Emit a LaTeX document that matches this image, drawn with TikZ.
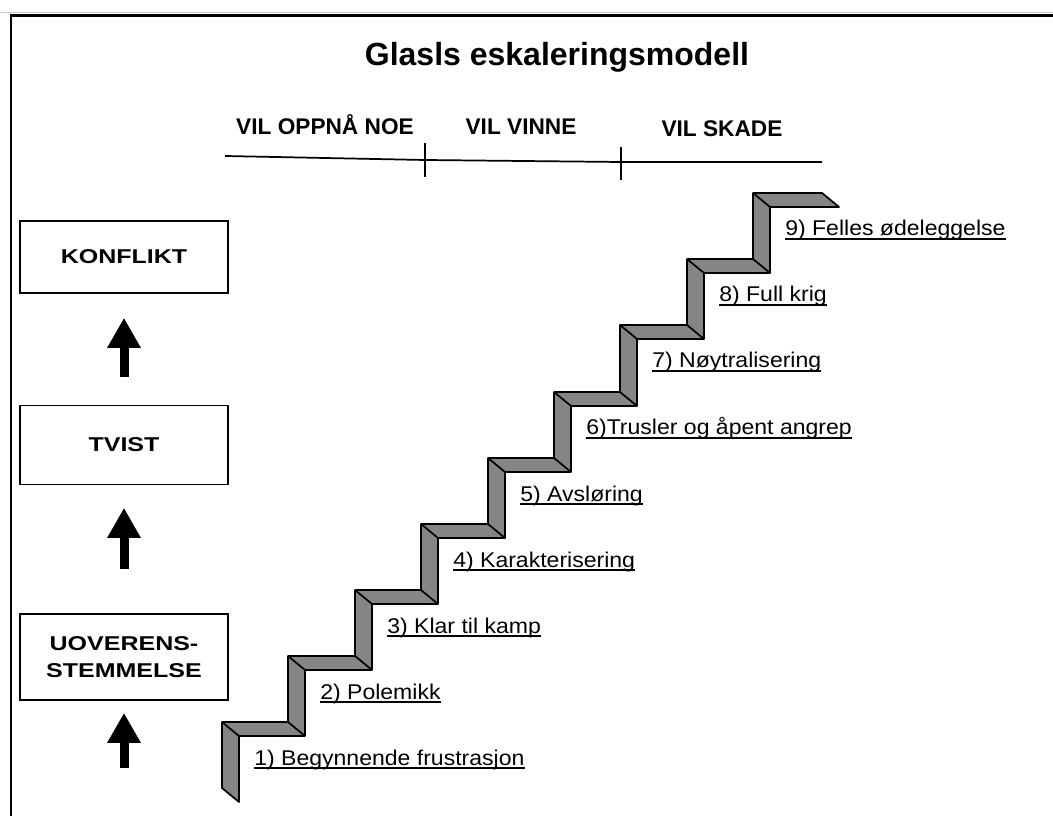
\documentclass[tikz,border=0pt]{standalone}
\usepackage{fontspec}
\setmainfont{Liberation Sans}
\newfontfamily\widefont[FakeStretch=1.08]{Liberation Sans}
\newfontfamily\boxfont[FakeStretch=1.25]{Liberation Sans}
\usetikzlibrary{arrows.meta}

% underlined step text
\newcommand{\stepline}[1]{\setbox0\hbox{#1}\rlap{\rule[-3pt]{\wd0}{1.2pt}}\box0}

\begin{document}
\begin{tikzpicture}[x=0.75pt, y=-0.75pt]
    % Define styles
    \tikzset{
        titletext/.style={font=\bfseries\fontsize{24}{28}\selectfont},
        phase/.style={font=\bfseries\fontsize{17}{20}\selectfont},
        timeline/.style={line width=1.3pt},
        stagebox/.style={draw, line width=1.2pt, minimum width=156pt, align=center,
            font=\boxfont\bfseries\fontsize{15}{20}\selectfont},
        bigarrow/.style={line width=6.75pt, -{Triangle[length=22.5pt, width=23.5pt]}},
        stair/.style={fill=black!48, draw=black, line width=1.3pt, line join=round},
        steplabel/.style={anchor=base west, inner sep=0pt, font=\widefont\fontsize{16}{18}\selectfont}
    }
    \useasboundingbox (0,0) rectangle (1053,816);

    % Frame
    \draw[gray!45, line width=1pt] (0,12.5) -- (1053,12.5);
    \draw[line width=1.6pt] (11,816) -- (11,15.5) -- (1053,15.5);

    % Title and phases
    \node[titletext] (title) at (557,57) {Glasls eskaleringsmodell};
    \node[phase] (oppna) at (325,125) {VIL OPPNÅ NOE};
    \node[phase] (vinne) at (521,127) {VIL VINNE};
    \node[phase] (skade) at (722,129) {VIL SKADE};
    \draw[timeline] (225,156) -- (425,160) -- (621,162) -- (822,162);
    \draw[timeline] (425,143) -- (425,177);
    \draw[timeline] (621,147) -- (621,180);

    % Stages (left)
    \node[stagebox, minimum height=54pt] (konflikt) at (124,257) {KONFLIKT};
    \node[stagebox, minimum height=59pt] (tvist) at (124,445) {TVIST};
    \node[stagebox, minimum height=64.5pt] (uoverens) at (124,657) {UOVERENS-\\STEMMELSE};
    \coordinate (ground) at (124,768);
    \draw[bigarrow, shorten <=21pt, shorten >=18pt] (tvist) -- (konflikt);
    \draw[bigarrow, shorten <=33pt, shorten >=17pt] (uoverens) -- (tvist);
    \draw[bigarrow, shorten >=9pt] (ground) -- (uoverens);

    % Staircase
    \filldraw[stair] (222,788) -- (222,722) -- (288,722) -- (288,656) -- (355,656) -- (355,590)
        -- (421,590) -- (421,524) -- (488,524) -- (488,458) -- (554,458) -- (554,392)
        -- (620,392) -- (620,325) -- (687,325) -- (687,259) -- (753,259) -- (753,193)
        -- (822,193) -- (839,207) -- (770,207) -- (770,273) -- (704,273) -- (704,339)
        -- (637,339) -- (637,406) -- (571,406) -- (571,472) -- (505,472) -- (505,538)
        -- (438,538) -- (438,604) -- (372,604) -- (372,670) -- (305,670) -- (305,736)
        -- (239,736) -- (239,802) -- cycle;
    \draw[stair, fill=none] (222,722) -- ++(17,14) (288,722) -- ++(17,14)
        (288,656) -- ++(17,14) (355,656) -- ++(17,14) (355,590) -- ++(17,14)
        (421,590) -- ++(17,14) (421,524) -- ++(17,14) (488,524) -- ++(17,14)
        (488,458) -- ++(17,14) (554,458) -- ++(17,14) (554,392) -- ++(17,14)
        (620,392) -- ++(17,14) (620,325) -- ++(17,14) (687,325) -- ++(17,14)
        (687,259) -- ++(17,14) (753,259) -- ++(17,14) (753,193) -- ++(17,14);

    % Step labels
    \node[steplabel] (lab1) at (254,765) {\stepline{1) Begynnende frustrasjon}};
    \node[steplabel] (lab2) at (320,699) {\stepline{2) Polemikk}};
    \node[steplabel] (lab3) at (387,633) {\stepline{3) Klar til kamp}};
    \node[steplabel] (lab4) at (453,567) {\stepline{4) Karakterisering}};
    \node[steplabel] (lab5) at (520,501) {\stepline{5) Avsløring}};
    \node[steplabel] (lab6) at (586,435) {\stepline{6)Trusler og åpent angrep}};
    \node[steplabel] (lab7) at (652,368) {\stepline{7) Nøytralisering}};
    \node[steplabel] (lab8) at (719,302) {\stepline{8) Full krig}};
    \node[steplabel] (lab9) at (785,236) {\stepline{9) Felles ødeleggelse}};

\end{tikzpicture}
\end{document}
